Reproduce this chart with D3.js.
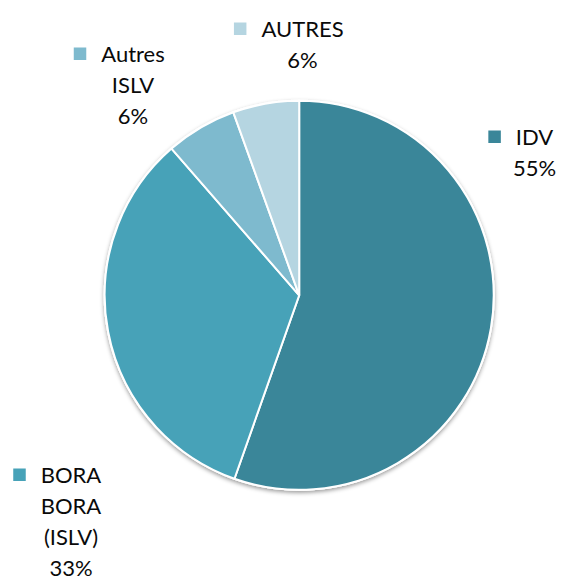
<!DOCTYPE html>
<html>
<head>
<meta charset="utf-8">
<script src="https://cdn.jsdelivr.net/npm/d3@7"></script>
<style>
  body { margin: 0; background: #fff; }
  text { font-family: Lato, "Open Sans", sans-serif; fill: #0a0a0a; }
</style>
</head>
<body>
<script>
// Data
var categories = ["IDV", "BORA BORA (ISLV)", "Autres ISLV", "AUTRES"];
var values = [55.4, 33.2, 5.9, 5.5];
var labelLines = [["IDV", "55%"], ["BORA", "BORA", "(ISLV)", "33%"], ["Autres", "ISLV", "6%"], ["AUTRES", "6%"]];
var colors = ["#3a8699", "#47a2b8", "#7ebace", "#b5d5e1"];

// Layout
var width = 562, height = 579;
var cx = 299.2, cy = 295.3, radius = 194.5;
// centre of the first text line for each label
var labelPos = [
    {x: 534.5, y: 137},
    {x: 71, y: 475},
    {x: 133, y: 54},
    {x: 302.5, y: 29}
];
var lineHeight = 31;
var fontSize = 22;

var svg = d3.select("body").append("svg")
    .attr("width", width)
    .attr("height", height);

var shadow = svg.append("defs").append("filter")
    .attr("id", "shadow")
    .attr("x", "-10%").attr("y", "-10%")
    .attr("width", "120%").attr("height", "120%");
shadow.append("feDropShadow")
    .attr("dx", 0).attr("dy", 2)
    .attr("stdDeviation", 2.2)
    .attr("flood-color", "#000")
    .attr("flood-opacity", 0.4);

var pie = d3.pie().sort(null).value(function(d) { return d; });
var arc = d3.arc().innerRadius(0).outerRadius(radius);

var g = svg.append("g")
    .attr("transform", "translate(" + cx + "," + cy + ")");

g.append("circle")
    .attr("r", radius + 1)
    .attr("fill", "#fff")
    .attr("filter", "url(#shadow)");

g.selectAll("path.slice")
    .data(pie(values))
    .enter().append("path")
    .attr("class", "slice")
    .attr("d", arc)
    .attr("fill", function(d, i) { return colors[i]; })
    .attr("stroke", "#fff")
    .attr("stroke-width", 2);

// Labels
var labels = svg.selectAll("g.label")
    .data(categories)
    .enter().append("g")
    .attr("class", "label")
    .attr("transform", function(d, i) {
        return "translate(" + labelPos[i].x + "," + labelPos[i].y + ")";
    });

labels.each(function(d, i) {
    var lg = d3.select(this);
    labelLines[i].forEach(function(t, k) {
        lg.append("text")
            .attr("x", 0)
            .attr("y", k * lineHeight + 8)
            .attr("text-anchor", "middle")
            .attr("font-size", fontSize)
            .text(t);
    });
    var w = lg.select("text").node().getComputedTextLength();
    lg.insert("rect", "text")
        .attr("x", -w / 2 - 15 - 12.5)
        .attr("y", -6.5)
        .attr("width", 12.5)
        .attr("height", 12.5)
        .attr("fill", colors[i]);
});
</script>
</body>
</html>
